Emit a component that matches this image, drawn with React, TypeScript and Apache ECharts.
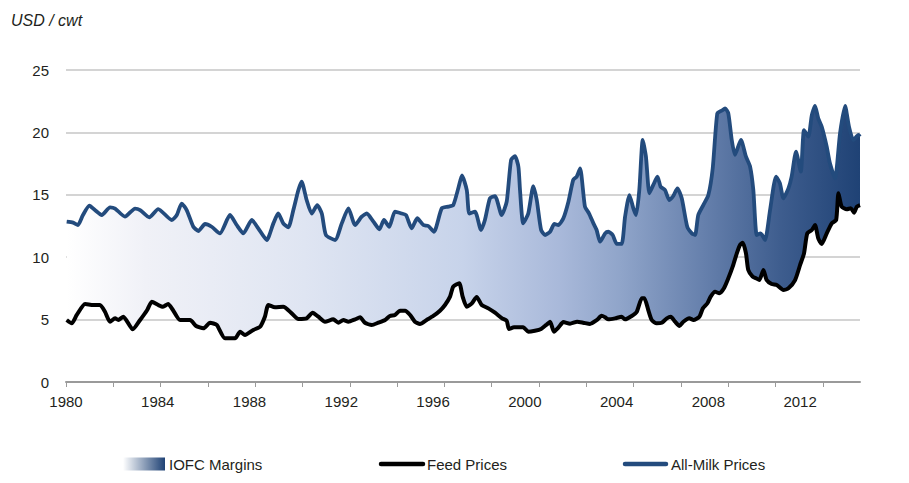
import React, { useEffect, useRef } from "react";
import * as echarts from "echarts";

// All-Milk prices, USD/cwt: [year, value]
const MILK: [number, number][] = [
  [1980.03, 12.85], [1980.31, 12.77], [1980.52, 12.58], [1980.74, 13.38], [1981.02, 14.13],
  [1981.26, 13.78], [1981.56, 13.38], [1981.92, 14.0], [1982.14, 13.9], [1982.57, 13.25],
  [1983.01, 13.9], [1983.23, 13.78], [1983.63, 13.2], [1984.02, 13.86], [1984.61, 12.98],
  [1984.83, 13.38], [1985.04, 14.3], [1985.26, 13.78], [1985.55, 12.44], [1985.77, 12.1],
  [1986.06, 12.66], [1986.35, 12.44], [1986.71, 11.91], [1987.15, 13.38], [1987.44, 12.58],
  [1987.73, 11.91], [1988.1, 12.98], [1988.38, 12.31], [1988.75, 11.38], [1989.04, 12.71],
  [1989.25, 13.5], [1989.47, 12.71], [1989.69, 12.4], [1989.91, 13.78], [1990.13, 15.38],
  [1990.27, 16.05], [1990.49, 14.58], [1990.71, 13.5], [1990.95, 14.18], [1991.15, 13.5],
  [1991.33, 11.78], [1991.73, 11.38], [1992.02, 12.71], [1992.31, 13.92], [1992.6, 12.58],
  [1992.89, 13.25], [1993.11, 13.5], [1993.4, 12.85], [1993.66, 12.24], [1993.86, 12.98],
  [1994.09, 12.44], [1994.34, 13.65], [1994.63, 13.5], [1994.82, 13.38], [1995.07, 12.31],
  [1995.31, 13.12], [1995.58, 12.58], [1995.79, 12.5], [1996.04, 12.04], [1996.38, 13.92],
  [1996.67, 14.05], [1996.88, 14.18], [1997.1, 15.52], [1997.26, 16.55], [1997.47, 15.38],
  [1997.58, 13.5], [1997.83, 13.65], [1998.09, 12.18], [1998.26, 12.98], [1998.48, 14.72],
  [1998.7, 14.9], [1998.99, 13.38], [1999.21, 14.45], [1999.4, 17.79], [1999.57, 18.1],
  [1999.72, 17.25], [1999.79, 15.38], [1999.93, 12.71], [2000.15, 13.5], [2000.37, 15.7],
  [2000.52, 14.58], [2000.71, 12.18], [2000.88, 11.78], [2001.1, 12.04], [2001.29, 12.66],
  [2001.46, 12.58], [2001.68, 13.12], [2001.9, 14.45], [2002.11, 16.19], [2002.26, 16.45],
  [2002.41, 17.12], [2002.62, 14.05], [2002.8, 13.5], [2002.99, 12.71], [2003.13, 12.18],
  [2003.28, 11.24], [2003.5, 11.91], [2003.64, 12.04], [2003.83, 11.78], [2004.01, 11.06],
  [2004.22, 11.06], [2004.37, 13.25], [2004.56, 14.98], [2004.73, 13.92], [2004.85, 13.38],
  [2004.99, 15.38], [2005.14, 19.39], [2005.28, 18.05], [2005.43, 15.12], [2005.6, 15.79],
  [2005.78, 16.45], [2005.92, 15.65], [2006.11, 15.38], [2006.3, 14.58], [2006.47, 14.9],
  [2006.65, 15.52], [2006.84, 14.72], [2007.08, 12.44], [2007.28, 11.91], [2007.42, 11.78],
  [2007.56, 13.38], [2007.78, 14.18], [2008.0, 14.98], [2008.19, 17.12], [2008.39, 21.53],
  [2008.58, 21.74], [2008.73, 21.93], [2008.87, 21.53], [2009.02, 19.39], [2009.16, 18.2],
  [2009.42, 19.4], [2009.64, 18.05], [2009.82, 17.25], [2009.96, 15.38], [2010.11, 11.78],
  [2010.28, 11.91], [2010.47, 11.38], [2010.69, 13.78], [2010.95, 16.45], [2011.12, 15.92],
  [2011.27, 14.72], [2011.49, 15.52], [2011.63, 16.45], [2011.82, 18.45], [2012.03, 16.85],
  [2012.17, 20.19], [2012.36, 19.66], [2012.51, 21.39], [2012.65, 22.12], [2012.79, 21.13],
  [2012.94, 20.46], [2013.16, 18.85], [2013.3, 17.52], [2013.52, 16.32], [2013.74, 19.93],
  [2013.96, 22.12], [2014.13, 20.46], [2014.32, 19.39], [2014.54, 19.79], [2014.61, 19.66],
];

// Feed prices, USD/cwt: [year, value]
const FEED: [number, number][] = [
  [1980.03, 4.97], [1980.25, 4.7], [1980.47, 5.37], [1980.83, 6.25], [1981.19, 6.17],
  [1981.48, 6.17], [1981.7, 5.63], [1981.92, 4.83], [1982.14, 5.1], [1982.28, 4.97],
  [1982.5, 5.23], [1982.91, 4.22], [1983.23, 4.97], [1983.54, 5.77], [1983.74, 6.43],
  [1984.02, 6.17], [1984.23, 6.03], [1984.45, 6.25], [1984.66, 5.77], [1984.97, 4.97],
  [1985.41, 4.97], [1985.67, 4.49], [1985.99, 4.3], [1986.28, 4.75], [1986.57, 4.57],
  [1986.93, 3.5], [1987.37, 3.5], [1987.59, 4.03], [1987.8, 3.77], [1988.16, 4.17],
  [1988.46, 4.43], [1988.67, 5.23], [1988.82, 6.17], [1989.11, 5.98], [1989.47, 6.03],
  [1989.84, 5.5], [1990.13, 5.05], [1990.49, 5.1], [1990.75, 5.55], [1991.0, 5.23],
  [1991.29, 4.83], [1991.65, 5.02], [1991.87, 4.75], [1992.09, 4.97], [1992.31, 4.83],
  [1992.6, 5.02], [1992.82, 5.18], [1993.03, 4.75], [1993.33, 4.57], [1993.61, 4.75],
  [1993.91, 4.97], [1994.12, 5.29], [1994.34, 5.37], [1994.56, 5.71], [1994.78, 5.71],
  [1995.0, 5.37], [1995.21, 4.83], [1995.43, 4.65], [1995.72, 4.97], [1996.01, 5.29],
  [1996.3, 5.71], [1996.52, 6.17], [1996.74, 6.84], [1996.88, 7.64], [1997.14, 7.91],
  [1997.29, 6.84], [1997.47, 6.03], [1997.69, 6.3], [1997.9, 6.82], [1998.12, 6.17],
  [1998.41, 5.9], [1998.7, 5.55], [1999.01, 5.1], [1999.21, 4.91], [1999.31, 4.25],
  [1999.53, 4.38], [1999.93, 4.38], [2000.15, 4.03], [2000.44, 4.11], [2000.71, 4.25],
  [2000.95, 4.6], [2001.1, 4.83], [2001.27, 4.03], [2001.46, 4.35], [2001.68, 4.8],
  [2001.97, 4.67], [2002.28, 4.83], [2002.55, 4.75], [2002.84, 4.65], [2003.13, 4.95],
  [2003.35, 5.3], [2003.5, 5.18], [2003.64, 5.02], [2003.93, 5.1], [2004.22, 5.23],
  [2004.37, 5.02], [2004.66, 5.29], [2004.88, 5.63], [2005.1, 6.71], [2005.21, 6.71],
  [2005.38, 5.77], [2005.53, 4.97], [2005.75, 4.7], [2005.97, 4.75], [2006.19, 5.1],
  [2006.36, 5.23], [2006.55, 4.83], [2006.74, 4.49], [2006.91, 4.83], [2007.17, 5.1],
  [2007.35, 4.97], [2007.61, 5.23], [2007.76, 5.9], [2007.96, 6.31], [2008.1, 6.84],
  [2008.29, 7.24], [2008.48, 7.11], [2008.68, 7.51], [2008.87, 8.31], [2009.06, 9.24],
  [2009.24, 10.31], [2009.38, 10.98], [2009.5, 11.16], [2009.64, 10.31], [2009.74, 8.97],
  [2009.93, 8.44], [2010.08, 8.31], [2010.22, 8.17], [2010.4, 8.97], [2010.54, 8.17],
  [2010.76, 7.85], [2010.98, 7.77], [2011.27, 7.37], [2011.49, 7.51], [2011.78, 8.17],
  [2012.0, 9.38], [2012.17, 10.31], [2012.31, 11.91], [2012.51, 12.18], [2012.65, 12.58],
  [2012.79, 11.51], [2012.94, 11.06], [2013.16, 11.91], [2013.38, 12.71], [2013.57, 12.98],
  [2013.67, 15.12], [2013.81, 14.05], [2014.03, 13.84], [2014.21, 13.92], [2014.35, 13.57],
  [2014.47, 14.05], [2014.61, 14.18],
];

const YEAR_LABELS = [1980, 1984, 1988, 1992, 1996, 2000, 2004, 2008, 2012];
const X_MIN = 1980;
const X_MAX = 2014.61;
const TICK_STEP = 2.062;
const TICK_COUNT = 17;
const Y_TICKS = { min: 0, max: 25, interval: 5 };

const SERIES_NAMES = { area: "IOFC Margins", feed: "Feed Prices", milk: "All-Milk Prices" };

const FONT = "'Liberation Sans', Arial, sans-serif";
const TEXT = "#231f20";
const MILK_COLOR = "#234b7d";

export default function App() {
  const ref = useRef<HTMLDivElement>(null);

  useEffect(() => {
    document.body.style.margin = "0";
    const chart = echarts.init(ref.current!, null, { renderer: "svg" });

    const areaGradient = new echarts.graphic.LinearGradient(0, 0, 1, 0, [
      { offset: 0, color: "#ffffff" },
      { offset: 0.1, color: "#f0f1f7" },
      { offset: 0.3, color: "#dfe5f2" },
      { offset: 0.5, color: "#c7d3ea" },
      { offset: 0.62, color: "#a9b9da" },
      { offset: 0.7, color: "#8fa4c9" },
      { offset: 0.8, color: "#6781ad" },
      { offset: 0.9, color: "#3e5d8e" },
      { offset: 1, color: "#1f4275" },
    ]);

    const tickValues: number[] = [];
    for (let k = 0; k < TICK_COUNT; k++) tickValues.push(X_MIN + k * TICK_STEP);

    chart.setOption({
      animation: false,
      grid: { left: 66, right: 49, top: 70, bottom: 101, containLabel: false },
      xAxis: {
        type: "value",
        min: X_MIN,
        max: X_MAX,
        axisLine: { show: true, lineStyle: { color: "#9a9a9a", width: 2 } },
        axisTick: {
          show: true,
          customValues: tickValues,
          length: 5,
          lineStyle: { color: "#9a9a9a", width: 1 },
        },
        axisLabel: {
          customValues: YEAR_LABELS,
          formatter: (v: number) => String(Math.round(v)),
          color: TEXT,
          fontFamily: FONT,
          fontSize: 15,
          margin: 12,
        },
        splitLine: { show: false },
      },
      yAxis: {
        type: "value",
        min: Y_TICKS.min,
        max: Y_TICKS.max,
        interval: Y_TICKS.interval,
        axisLine: { show: false },
        axisTick: { show: false },
        axisLabel: { color: TEXT, fontFamily: FONT, fontSize: 15, margin: 17 },
        splitLine: { show: true, lineStyle: { color: "#c6c6c6", width: 1.5 } },
      },
      graphic: [
        {
          type: "text",
          left: 11,
          top: 12,
          style: { text: "USD / cwt", font: `italic 16px ${FONT}`, fill: TEXT },
        },
        {
          type: "rect",
          shape: { x: 123, y: 457.5, width: 42, height: 13 },
          style: {
            fill: new echarts.graphic.LinearGradient(0, 0, 1, 0, [
              { offset: 0, color: "#ffffff" },
              { offset: 1, color: "#1f4275" },
            ]),
          },
        },
        {
          type: "text",
          x: 169,
          y: 464,
          style: { text: SERIES_NAMES.area, font: `15px ${FONT}`, fill: TEXT, verticalAlign: "middle" },
        },
        {
          type: "line",
          shape: { x1: 381, y1: 464, x2: 423, y2: 464 },
          style: { stroke: "#000000", lineWidth: 4.5, lineCap: "round" },
        },
        {
          type: "text",
          x: 427,
          y: 464,
          style: { text: SERIES_NAMES.feed, font: `15px ${FONT}`, fill: TEXT, verticalAlign: "middle" },
        },
        {
          type: "line",
          shape: { x1: 625, y1: 464, x2: 666, y2: 464 },
          style: { stroke: MILK_COLOR, lineWidth: 4.5, lineCap: "round" },
        },
        {
          type: "text",
          x: 671,
          y: 464,
          style: { text: SERIES_NAMES.milk, font: `15px ${FONT}`, fill: TEXT, verticalAlign: "middle" },
        },
      ],
      series: [
        {
          name: SERIES_NAMES.area,
          type: "custom",
          coordinateSystem: "cartesian2d",
          data: [[X_MIN, 0]],
          z: 1,
          silent: true,
          renderItem: (_params: any, api: any) => {
            const pts: number[][] = [];
            MILK.forEach((p) => pts.push(api.coord(p)));
            for (let i = FEED.length - 1; i >= 0; i--) pts.push(api.coord(FEED[i]));
            return {
              type: "polygon",
              shape: { points: pts },
              style: { fill: areaGradient, stroke: null },
            };
          },
        },
        {
          name: SERIES_NAMES.feed,
          type: "line",
          data: FEED,
          z: 3,
          symbol: "none",
          smooth: 0.2,
          lineStyle: { color: "#000000", width: 4 },
        },
        {
          name: SERIES_NAMES.milk,
          type: "line",
          data: MILK,
          z: 3,
          symbol: "none",
          smooth: 0.2,
          lineStyle: { color: MILK_COLOR, width: 3.8 },
        },
      ],
    });

    return () => chart.dispose();
  }, []);

  return <div ref={ref} style={{ width: 909, height: 483 }} />;
}
